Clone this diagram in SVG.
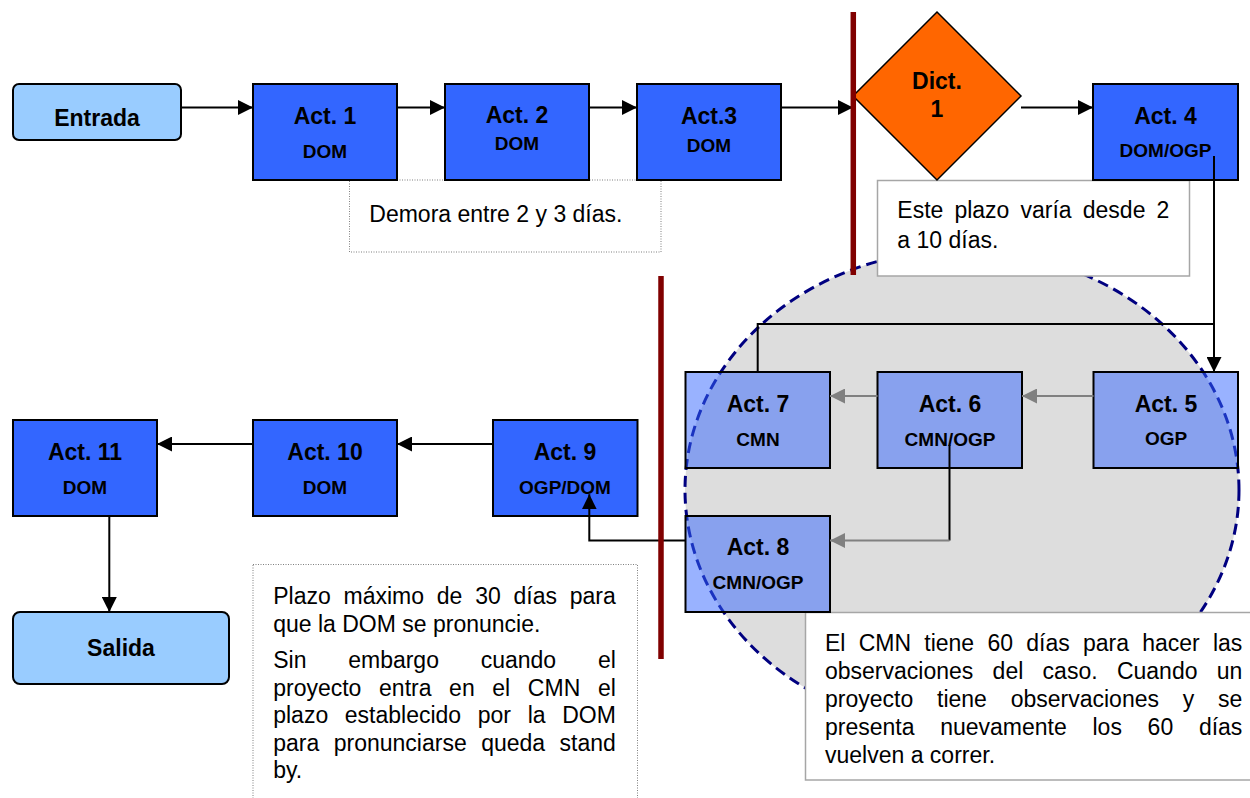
<svg xmlns="http://www.w3.org/2000/svg" width="1250" height="798" viewBox="0 0 1250 798">
  <defs>
    <style>
      text{font-family:"Liberation Sans",Arial,sans-serif;fill:#000}
      .term{fill:#99CCFF;stroke:#000;stroke-width:2}
      .act{fill:#3366FF;stroke:#000;stroke-width:2}
      .act.half{fill-opacity:.5}
      .dict{fill:#FF6600;stroke:#000;stroke-width:1.5}
      .ttl{font-size:23px;font-weight:bold;text-anchor:middle}
      .sub{font-size:19px;font-weight:bold;text-anchor:middle}
      .body{font-size:23px}
      .note{fill:#fff;stroke:#A6A6A6;stroke-width:1.5}
      .note.dot{stroke:#7F7F7F;stroke-width:1;stroke-dasharray:1 1.5}
      .ln{fill:none;stroke:#000;stroke-width:2}
      .ln.gray{stroke:#808080}
      .arr{marker-end:url(#ah)}
      .arr.gray{marker-end:url(#ahg)}
      .bar{stroke:#800000;stroke-width:5.5}
    </style>
    <marker id="ah" markerWidth="15" markerHeight="15" refX="15" refY="7.5" orient="auto" markerUnits="userSpaceOnUse">
      <path d="M0,0 L15,7.5 L0,15 Z" fill="#000"/>
    </marker>
    <marker id="ahg" markerWidth="15" markerHeight="15" refX="15" refY="7.5" orient="auto" markerUnits="userSpaceOnUse">
      <path d="M0,0 L15,7.5 L0,15 Z" fill="#808080"/>
    </marker>
  </defs>

  <rect width="1250" height="798" fill="#fff"/>

  <!-- CMN review zone -->
  <g id="cmn-zone">
    <ellipse cx="962" cy="490" rx="277" ry="240" fill="#DDDDDD" stroke="#000080" stroke-width="3" stroke-dasharray="11 6"/>
  </g>

  <!-- annotations -->
  <g id="note-demora">
    <rect class="note dot" x="349.5" y="180" width="311.5" height="72"/>
    <text class="body" x="369.3" y="221.7">Demora entre 2 y 3 días.</text>
  </g>
  <g id="note-plazo-dict">
    <rect class="note" x="877.5" y="180.5" width="312" height="95.5"/>
    <text class="body" x="897.3" y="218.3" word-spacing="4.72">Este plazo varía desde 2</text>
    <text class="body" x="897.3" y="248.3">a 10 días.</text>
  </g>
  <g id="note-dom">
    <rect class="note dot" x="253" y="564.5" width="384.5" height="250"/>
    <text class="body" x="273.2" y="604" word-spacing="6.39">Plazo máximo de 30 días para</text>
    <text class="body" x="273.2" y="631.5">que la DOM se pronuncie.</text>
    <text class="body" x="273.2" y="668" word-spacing="35.36">Sin embargo cuando el</text>
    <text class="body" x="273.2" y="695.5" word-spacing="11.25">proyecto entra en el CMN el</text>
    <text class="body" x="273.2" y="723" word-spacing="10.23">plazo establecido por la DOM</text>
    <text class="body" x="273.2" y="750.5" word-spacing="8.09">para pronunciarse queda stand</text>
    <text class="body" x="273.2" y="778">by.</text>
  </g>
  <g id="note-cmn">
    <rect class="note" x="805.5" y="612.5" width="450" height="167.5"/>
    <text class="body" x="825" y="651" word-spacing="6.84">El CMN tiene 60 días para hacer las</text>
    <text class="body" x="825" y="679" word-spacing="12.92">observaciones del caso. Cuando un</text>
    <text class="body" x="825" y="707" word-spacing="17.4">proyecto tiene observaciones y se</text>
    <text class="body" x="825" y="735" word-spacing="19.31">presenta nuevamente los 60 días</text>
    <text class="body" x="825" y="763">vuelven a correr.</text>
  </g>

  <!-- nodes -->
  <g id="entrada">
    <rect class="term" x="13" y="84" width="168" height="56" rx="6"/>
    <text class="ttl" x="97" y="125.7">Entrada</text>
  </g>
  <g id="act1">
    <rect class="act" x="253" y="84" width="144" height="96"/>
    <text class="ttl" x="325" y="124">Act. 1</text>
    <text class="sub" x="325" y="157.7">DOM</text>
  </g>
  <g id="act2">
    <rect class="act" x="445" y="84" width="144" height="96"/>
    <text class="ttl" x="517" y="123.3">Act. 2</text>
    <text class="sub" x="517" y="150">DOM</text>
  </g>
  <g id="act3">
    <rect class="act" x="637" y="84" width="144" height="96"/>
    <text class="ttl" x="709" y="124">Act.3</text>
    <text class="sub" x="709" y="151.5">DOM</text>
  </g>
  <g id="dict1">
    <polygon class="dict" points="937,12 1021,96 937,180 853,96"/>
    <text class="ttl" x="937" y="88.7">Dict.</text>
    <text class="ttl" x="937" y="116.7">1</text>
  </g>
  <g id="act4">
    <rect class="act" x="1093" y="84" width="145" height="96"/>
    <text class="ttl" x="1165.5" y="124">Act. 4</text>
    <text class="sub" x="1165.5" y="157.3">DOM/OGP</text>
  </g>
  <g id="act5">
    <rect class="act half" x="1093.5" y="372" width="144.5" height="96"/>
    <text class="ttl" x="1166" y="411.7">Act. 5</text>
    <text class="sub" x="1166" y="445">OGP</text>
  </g>
  <g id="act6">
    <rect class="act half" x="877.5" y="372" width="144.5" height="96"/>
    <text class="ttl" x="950" y="411.7">Act. 6</text>
    <text class="sub" x="950" y="445.5">CMN/OGP</text>
  </g>
  <g id="act7">
    <rect class="act half" x="685.5" y="372" width="144.5" height="96"/>
    <text class="ttl" x="758" y="411.7">Act. 7</text>
    <text class="sub" x="758" y="445.5">CMN</text>
  </g>
  <g id="act8">
    <rect class="act half" x="685.5" y="516" width="144.5" height="96"/>
    <text class="ttl" x="758" y="555">Act. 8</text>
    <text class="sub" x="758" y="589.3">CMN/OGP</text>
  </g>
  <g id="act9">
    <rect class="act" x="493" y="420" width="144.5" height="96"/>
    <text class="ttl" x="565" y="460">Act. 9</text>
    <text class="sub" x="565" y="494.3">OGP/DOM</text>
  </g>
  <g id="act10">
    <rect class="act" x="253" y="420" width="144" height="96"/>
    <text class="ttl" x="325" y="460">Act. 10</text>
    <text class="sub" x="325" y="494.3">DOM</text>
  </g>
  <g id="act11">
    <rect class="act" x="13" y="420" width="144" height="96"/>
    <text class="ttl" x="85" y="460">Act. 11</text>
    <text class="sub" x="85" y="494.3">DOM</text>
  </g>
  <g id="salida">
    <rect class="term" x="13" y="612" width="216" height="72" rx="7"/>
    <text class="ttl" x="121" y="656">Salida</text>
  </g>

  <!-- connectors -->
  <g id="connectors">
    <path class="ln arr" d="M181,107.5 H253"/>
    <path class="ln arr" d="M397,107.5 H445"/>
    <path class="ln arr" d="M589,107.5 H637"/>
    <path class="ln arr" d="M781,107.5 H853"/>
    <path class="ln arr" d="M1021,107.5 H1093"/>
    <path class="ln arr" d="M1214,156 V372"/>
    <path class="ln" d="M1214,324 H757.7 V372"/>
    <path class="ln gray arr gray" d="M1093.5,396 H1022"/>
    <path class="ln gray arr gray" d="M877.5,396 H830"/>
    <path class="ln" d="M949.5,445 V540.5"/>
    <path class="ln gray arr gray" d="M949.5,540.5 H830"/>
    <path class="ln arr" d="M685.5,540.5 H589.3 V494.3"/>
    <path class="ln arr" d="M493,444 H397"/>
    <path class="ln arr" d="M253,444 H157"/>
    <path class="ln arr" d="M109.3,516 V612"/>
  </g>

  <!-- stage boundaries -->
  <g id="boundaries">
    <line class="bar" x1="853.3" y1="12" x2="853.3" y2="275"/>
    <line class="bar" x1="661" y1="276" x2="661" y2="659"/>
  </g>
</svg>
